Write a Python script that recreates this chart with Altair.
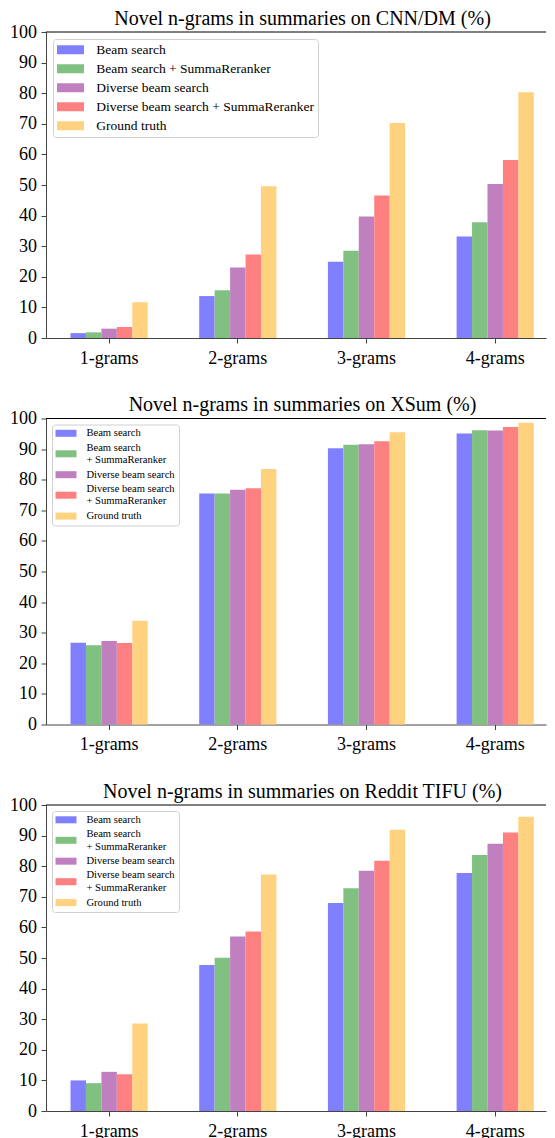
import altair as alt
import pandas as pd

ngrams = ["1-grams", "2-grams", "3-grams", "4-grams"]
series = ["Beam search", "Beam search + SummaReranker", "Diverse beam search",
          "Diverse beam search + SummaReranker", "Ground truth"]
colors = ["#8080ff", "#80c080", "#c080c0", "#ff8080", "#ffd280"]

# CNN/DM
cnn_beam = [1.6, 13.7, 24.9, 33.2]
cnn_beam_sr = [1.85, 15.6, 28.5, 37.8]
cnn_dbs = [3.05, 23.0, 39.7, 50.3]
cnn_dbs_sr = [3.6, 27.3, 46.6, 58.2]
cnn_gt = [11.7, 49.6, 70.3, 80.3]

# XSum
xsum_beam = [26.7, 75.5, 90.3, 95.1]
xsum_beam_sr = [25.9, 75.5, 91.4, 96.2]
xsum_dbs = [27.3, 76.7, 91.6, 96.1]
xsum_dbs_sr = [26.6, 77.2, 92.6, 97.2]
xsum_gt = [33.9, 83.5, 95.5, 98.6]

# Reddit TIFU
red_beam = [10.0, 47.7, 68.0, 77.8]
red_beam_sr = [9.1, 50.1, 72.8, 83.7]
red_dbs = [12.8, 57.0, 78.5, 87.3]
red_dbs_sr = [12.0, 58.7, 81.8, 91.0]
red_gt = [28.6, 77.3, 91.9, 96.2]

yticks = [0, 10, 20, 30, 40, 50, 60, 70, 80, 90, 100]

FONT = "Liberation Serif"
W, H = 500, 306

# legend key shapes (symbolSize 100 -> unit = 5px)
RECT_BIG = "M-2.7,-0.9H2.7V0.9H-2.7Z"        # 27 x 9 px
RECT_SMALL = "M-2.1,-0.7H2.1V0.7H-2.1Z"      # 21 x 7 px
RECT_SMALL_LOW = "M-2.1,0.56H2.1V1.96H-2.1Z"  # same, centred on a two-line label
shapes_multi = [RECT_SMALL, RECT_SMALL_LOW, RECT_SMALL, RECT_SMALL_LOW, RECT_SMALL]

y_axis = alt.Axis(title=None, values=yticks, grid=False, labelFont=FONT,
                  labelFontSize=18, labelColor="black", tickSize=5,
                  tickColor="#444", domainColor="#444", labelPadding=4.5,
                  labelOverlap=False)
y_scale = alt.Scale(domain=[0, 100], nice=False)


def long_df(vals):
    rows = []
    for s, v in zip(series, vals):
        for g, val in zip(ngrams, v):
            rows.append({"ngram": g, "series": s, "value": val})
    return pd.DataFrame(rows)


x_enc = alt.X("ngram:N", sort=ngrams,
              scale=alt.Scale(paddingInner=0.4, paddingOuter=0.1426, align=0.668, round=False),
              axis=alt.Axis(title=None, labelAngle=0, labelFont=FONT, labelFontSize=18,
                            labelColor="black", tickSize=5, tickColor="#444",
                            domainColor="#444", labelPadding=6, labelOverlap=False))
y_enc = alt.Y("value:Q", scale=y_scale, axis=y_axis)


def panel(title, vals, multiline):
    df = long_df(vals)
    base = alt.Chart(df)
    if multiline:
        legend = alt.Legend(
            title=None, orient="top-left", offset=5.5, padding=3.5,
            fillColor="white", strokeColor="#d0d0d0", cornerRadius=3,
            labelFont=FONT, labelFontSize=10.6, labelColor="black",
            symbolSize=100, symbolStrokeWidth=0, symbolOpacity=1,
            symbolOffset=5.2, labelOffset=15.1,
            rowPadding=3.2, labelLimit=0, gridAlign="none",
            labelExpr="indexof(datum.label, ' + ') >= 0 ? "
                      "[slice(datum.label, 0, indexof(datum.label, ' + ')), "
                      "'\u00a0' + slice(datum.label, indexof(datum.label, ' + ') + 1)] : datum.label",
        )
        bars = base.mark_bar().encode(
            x=x_enc, xOffset=alt.XOffset("series:N", sort=series), y=y_enc,
            color=alt.Color("series:N", sort=series,
                            scale=alt.Scale(domain=series, range=colors), legend=None),
        )
        keys = base.mark_point(filled=True, opacity=0).encode(
            x=x_enc, xOffset=alt.XOffset("series:N", sort=series), y=y_enc,
            color=alt.Color("series:N", sort=series,
                            scale=alt.Scale(domain=series, range=colors), legend=legend),
            shape=alt.Shape("series:N", sort=series,
                            scale=alt.Scale(domain=series, range=shapes_multi), legend=legend),
        )
        layers = [keys, bars]
    else:
        legend = alt.Legend(
            title=None, orient="top-left", offset=7, padding=4,
            fillColor="white", strokeColor="#d0d0d0", cornerRadius=3,
            labelFont=FONT, labelFontSize=13.5, labelColor="black",
            symbolType=RECT_BIG, symbolSize=100,
            symbolStrokeWidth=0, symbolOpacity=1,
            symbolOffset=6.75, labelOffset=19.1,
            rowPadding=4.0, labelLimit=0, gridAlign="none",
        )
        bars = base.mark_bar().encode(
            x=x_enc, xOffset=alt.XOffset("series:N", sort=series), y=y_enc,
            color=alt.Color("series:N", sort=series,
                            scale=alt.Scale(domain=series, range=colors), legend=legend),
        )
        layers = [bars]
    top = alt.Chart(pd.DataFrame({"v": [100]})).mark_rule(color="black", strokeWidth=1).encode(
        y=alt.Y("v:Q", scale=y_scale, axis=y_axis)
    )
    return alt.layer(*layers, top).properties(
        width=W, height=H,
        title=alt.TitleParams(title, font=FONT, fontSize=20, fontWeight="normal",
                              color="black", anchor="middle", baseline="top",
                              frame="group", offset=-5.5, dx=6.5),
    )


chart = alt.vconcat(
    panel("Novel n-grams in summaries on CNN/DM (%)",
          [cnn_beam, cnn_beam_sr, cnn_dbs, cnn_dbs_sr, cnn_gt], False),
    panel("Novel n-grams in summaries on XSum (%)",
          [xsum_beam, xsum_beam_sr, xsum_dbs, xsum_dbs_sr, xsum_gt], True),
    panel("Novel n-grams in summaries on Reddit TIFU (%)",
          [red_beam, red_beam_sr, red_dbs, red_dbs_sr, red_gt], True),
    spacing=27.5,
).resolve_scale(color="independent", shape="independent").properties(
    padding={"left": 1, "top": 0, "right": 0, "bottom": 0}
).configure_view(stroke=None)

chart.save("out.html", embed_options={"renderer": "svg", "actions": False})
